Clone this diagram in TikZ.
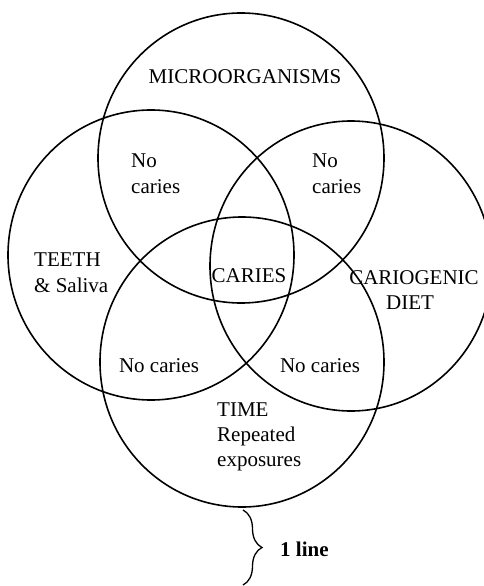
\documentclass[tikz,border=0pt]{standalone}
\usepackage{fontspec}
\setmainfont{Liberation Serif}
\usetikzlibrary{decorations.pathreplacing}
\begin{document}
\begin{tikzpicture}[x=1pt,y=-1pt,
  ring/.style={line width=1.6pt,black},
  lbl/.style={inner sep=0pt,font=\fontsize{21pt}{25pt}\selectfont},
  lblbold/.style={inner sep=0pt,font=\fontsize{21pt}{25pt}\selectfont\bfseries}]
\useasboundingbox (0,0) rectangle (484,586);
\clip (0,0) rectangle (484,586);
% circles
\coordinate (ctop) at (241,158);
\coordinate (cleft) at (151,255);
\coordinate (cright) at (351,266);
\coordinate (cbot) at (242,362);
\draw[ring] (ctop) ellipse [x radius=143pt, y radius=145pt];
\draw[ring] (cleft) ellipse [x radius=143pt, y radius=145pt];
\draw[ring] (cright) ellipse [x radius=141pt, y radius=145pt];
\draw[ring] (cbot) ellipse [x radius=142pt, y radius=145pt];
% labels
\node[lbl,anchor=base] (micro) at (245,84) {MICROORGANISMS};
\node[lbl,anchor=base west] (nc1a) at (131,167) {No};
\node[lbl,anchor=base west] (nc1b) at (131,193) {caries};
\node[lbl,anchor=base west] (nc2a) at (312,167) {No};
\node[lbl,anchor=base west] (nc2b) at (312,193) {caries};
\node[lbl,anchor=base west] (teeth) at (34,266) {TEETH};
\node[lbl,anchor=base west] (saliva) at (34,292) {\& Saliva};
\node[lbl,anchor=base] (caries) at (249,282) {CARIES};
\node[lbl,anchor=base] (cario) at (414,284) {CARIOGENIC};
\node[lbl,anchor=base] (diet) at (410,309) {DIET};
\node[lbl,anchor=base] (nc3) at (159,372) {No caries};
\node[lbl,anchor=base] (nc4) at (320,372) {No caries};
\node[lbl,anchor=base west] (time) at (217,416) {TIME};
\node[lbl,anchor=base west] (rep) at (217,441) {Repeated};
\node[lbl,anchor=base west] (expo) at (217,466) {exposures};
% brace
\coordinate (bt) at (243,510);
\coordinate (bb) at (243,585);
\draw[line width=1.3pt,decorate,decoration={brace,amplitude=19pt}] (bt) -- (bb);
\node[lblbold,anchor=base west] (oneline) at (280,556) {1 line};
\end{tikzpicture}
\end{document}
